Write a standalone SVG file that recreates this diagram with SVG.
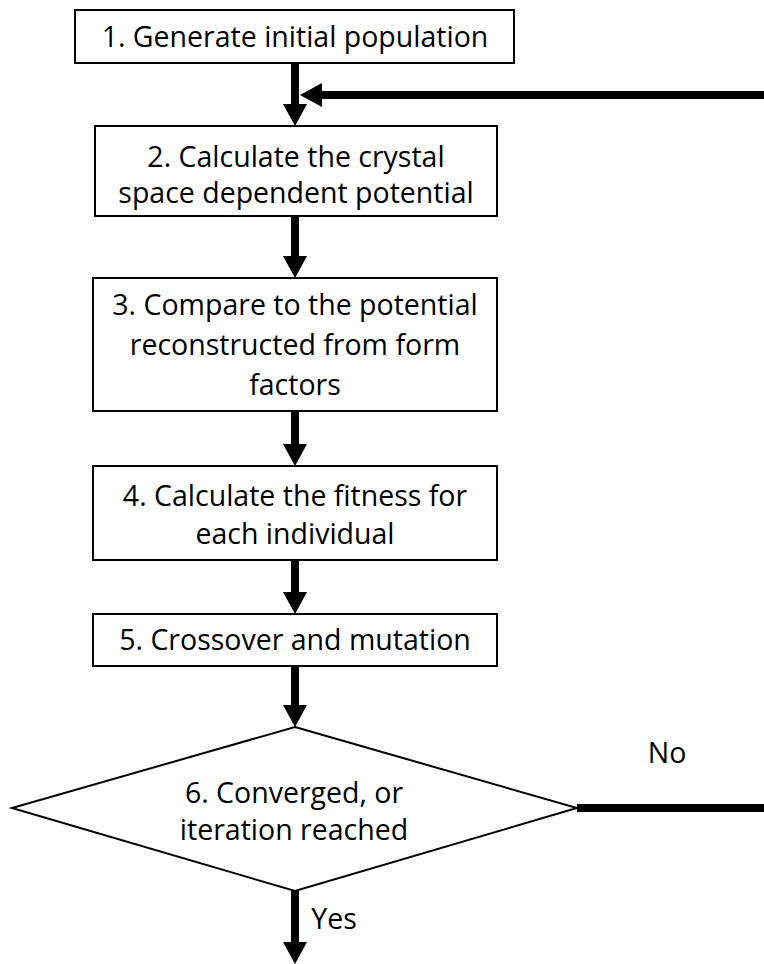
<svg xmlns="http://www.w3.org/2000/svg" width="764" height="964" viewBox="0 0 764 964">
<style>
.box{fill:#fff;stroke:#000;stroke-width:2}
.t{font-family:"Open Sans","Liberation Sans",sans-serif;font-size:28.5px;fill:#000;text-anchor:middle}
.c{stroke:#000;stroke-width:8;fill:none}
.h{fill:#000}
</style>
<rect width="764" height="964" fill="#fff"/>
<g id="connectors">
<line class="c" x1="295" y1="63" x2="295" y2="106"/>
<polygon class="h" points="283,104 307,104 295,126"/>
<line class="c" x1="764" y1="95" x2="320" y2="95"/>
<polygon class="h" points="322,83 322,107 300,95"/>
<line class="c" x1="295" y1="216" x2="295" y2="258"/>
<polygon class="h" points="283,256 307,256 295,278"/>
<line class="c" x1="295" y1="411" x2="295" y2="446"/>
<polygon class="h" points="283,444 307,444 295,466"/>
<line class="c" x1="295" y1="560" x2="295" y2="594"/>
<polygon class="h" points="283,592 307,592 295,614"/>
<line class="c" x1="295" y1="666" x2="295" y2="707"/>
<polygon class="h" points="283,705 307,705 295,727"/>
<line class="c" x1="577" y1="808" x2="764" y2="808"/>
<line class="c" x1="295" y1="891" x2="295" y2="944"/>
<polygon class="h" points="283,942 307,942 295,964"/>
<text class="t" x="667" y="763">No</text>
<text class="t" x="334" y="929">Yes</text>
</g>
<g id="n1">
<rect class="box" x="75" y="10" width="439" height="53"/>
<text class="t" x="295" y="47">1. Generate initial population</text>
</g>
<g id="n2">
<rect class="box" x="95" y="126" width="402" height="90"/>
<text class="t" x="296" y="167">2. Calculate the crystal</text>
<text class="t" x="296" y="203">space dependent potential</text>
</g>
<g id="n3">
<rect class="box" x="93" y="278" width="404" height="133"/>
<text class="t" x="295" y="315">3. Compare to the potential</text>
<text class="t" x="295" y="355">reconstructed from form</text>
<text class="t" x="295" y="395">factors</text>
</g>
<g id="n4">
<rect class="box" x="93" y="466" width="404" height="94"/>
<text class="t" x="295" y="506">4. Calculate the fitness for</text>
<text class="t" x="295" y="544">each individual</text>
</g>
<g id="n5">
<rect class="box" x="93" y="614" width="404" height="52"/>
<text class="t" x="295" y="650">5. Crossover and mutation</text>
</g>
<g id="n6">
<polygon class="box" points="295,727 577,808 295,891 12,808"/>
<text class="t" x="294" y="803">6. Converged, or</text>
<text class="t" x="294" y="840">iteration reached</text>
</g>
</svg>
